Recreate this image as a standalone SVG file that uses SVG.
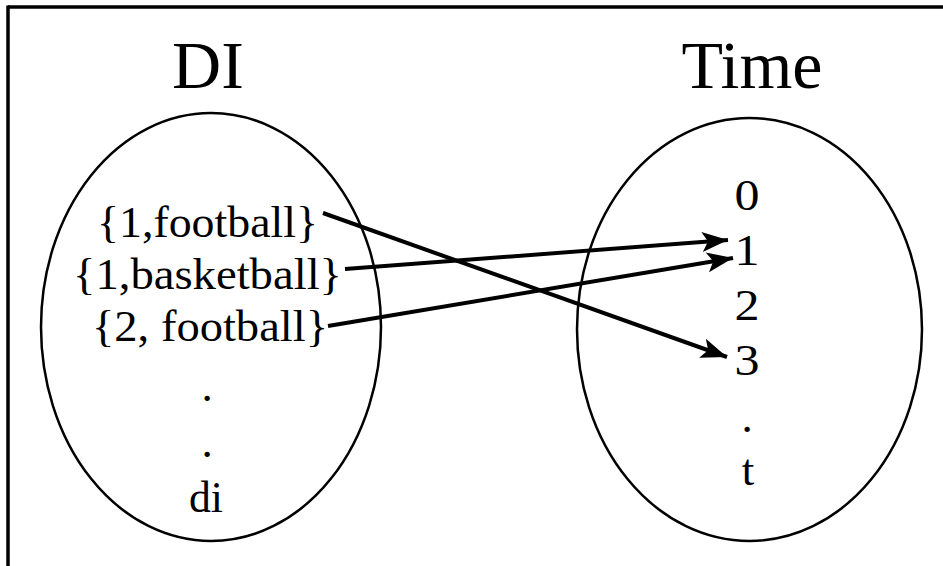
<svg xmlns="http://www.w3.org/2000/svg" width="943" height="566" viewBox="0 0 943 566">
<style>
.t{font-family:"Liberation Serif","Times New Roman",serif;fill:#000;text-anchor:middle}
.h{font-size:68px}
.s{font-size:45px}
.e{fill:none;stroke:#000;stroke-width:2.5}
.c{fill:none;stroke:#000;stroke-width:4;marker-end:url(#ah)}
</style>
<defs>
<marker id="ah" markerUnits="userSpaceOnUse" markerWidth="30" markerHeight="24" refX="26" refY="10" orient="auto" viewBox="0 0 30 20">
<path d="M0,0 L26,10 L0,20 L6,10 Z" fill="#000"/>
</marker>
</defs>
<rect width="943" height="566" fill="#fff"/>
<g id="frame">
<line x1="8" y1="7" x2="943" y2="7" stroke="#000" stroke-width="3.5"/>
<line x1="8" y1="5.5" x2="8" y2="566" stroke="#000" stroke-width="3.5"/>
</g>
<g id="di-set">
<ellipse class="e" cx="211" cy="327" rx="170" ry="214"/>
<text class="t h" x="208" y="88">DI</text>
<text class="t s" x="207.5" y="237" textLength="221" lengthAdjust="spacingAndGlyphs">{1,football}</text>
<text class="t s" x="207.5" y="289" textLength="269" lengthAdjust="spacingAndGlyphs">{1,basketball}</text>
<text class="t s" x="210" y="341" textLength="236" lengthAdjust="spacingAndGlyphs">{2, football}</text>
<text class="t s" x="207" y="401">.</text>
<text class="t s" x="207" y="457">.</text>
<text class="t s" x="206" y="512" textLength="34" lengthAdjust="spacingAndGlyphs">di</text>
</g>
<g id="time-set">
<ellipse class="e" cx="749.5" cy="329.5" rx="172.5" ry="211.5"/>
<text class="t h" x="752" y="88">Time</text>
<text class="t s" x="747" y="210" textLength="25" lengthAdjust="spacingAndGlyphs">0</text>
<text class="t s" x="747" y="265" textLength="25" lengthAdjust="spacingAndGlyphs">1</text>
<text class="t s" x="747" y="320" textLength="25" lengthAdjust="spacingAndGlyphs">2</text>
<text class="t s" x="747" y="375" textLength="25" lengthAdjust="spacingAndGlyphs">3</text>
<text class="t s" x="747" y="432">.</text>
<text class="t s" x="748" y="485">t</text>
</g>
<g id="connectors">
<line class="c" x1="323" y1="213" x2="727" y2="357"/>
<line class="c" x1="345" y1="269" x2="728" y2="240"/>
<line class="c" x1="328" y1="326" x2="733" y2="258"/>
</g>
</svg>
